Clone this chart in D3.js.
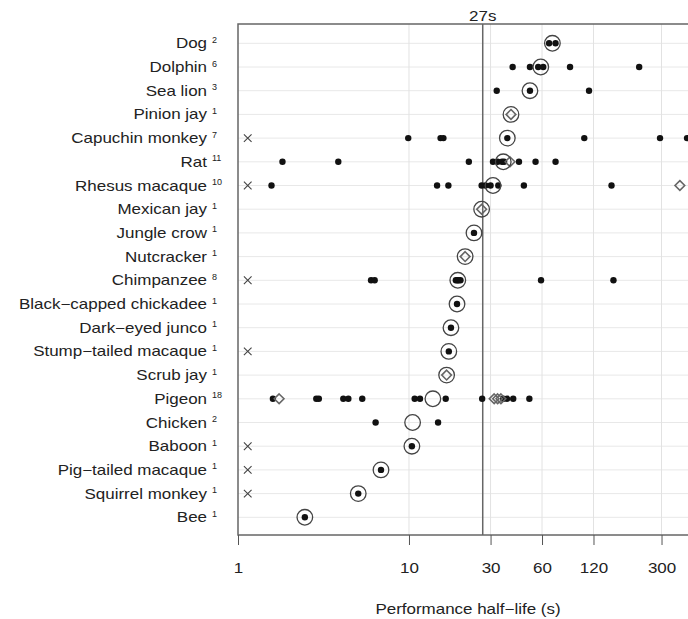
<!DOCTYPE html>
<html>
<head>
<meta charset="utf-8">
<script src="https://cdn.jsdelivr.net/npm/d3@7"></script>
<style>
  body { margin: 0; background: #fff; }
  text { font-family: "Liberation Sans", Arial, sans-serif; fill: #222; }
</style>
</head>
<body>
<div id="chart"></div>
<script>
// species, top to bottom
var species = ["Dog", "Dolphin", "Sea lion", "Pinion jay", "Capuchin monkey", "Rat",
    "Rhesus macaque", "Mexican jay", "Jungle crow", "Nutcracker", "Chimpanzee",
    "Black\u2212capped chickadee", "Dark\u2212eyed junco", "Stump\u2212tailed macaque", "Scrub jay",
    "Pigeon", "Chicken", "Baboon", "Pig\u2212tailed macaque", "Squirrel monkey", "Bee"];
var counts = [2, 6, 3, 1, 7, 11, 10, 1, 1, 1, 8, 1, 1, 1, 1, 18, 2, 1, 1, 1, 1];

// big open circle per species (median half-life, s)
var medians = [69, 59, 51, 39.5, 37.6, 35.6, 31, 26.6, 24, 21.3, 19.3, 19.1, 17.6, 17.1, 16.6,
    13.8, 10.5, 10.4, 6.86, 5.05, 2.46];

// individual estimates (small black dots)
var dotValues = [
    [66, 72],
    [40.4, 51, 57, 61, 87.5, 222],
    [32.6, 51, 113],
    [],
    [9.9, 15.3, 15.9, 37.6, 106, 294, 423],
    [1.82, 3.86, 22.4, 31, 33, 35, 36, 44, 55, 72],
    [1.57, 14.6, 17, 26.6, 28, 30, 33.3, 47, 153],
    [],
    [24],
    [],
    [6.0, 6.3, 18.8, 19.2, 19.5, 20, 59.2, 157],
    [19.1],
    [17.6],
    [17.1],
    [],
    [1.6, 2.87, 2.97, 4.13, 4.42, 5.33, 10.8, 11.6, 16.4, 26.8, 35.6, 37.5, 40.7, 50.6],
    [6.38, 14.8],
    [10.4],
    [6.86],
    [5.05],
    [2.46]
];

// other estimates (open diamonds)
var diamondValues = [
    [], [], [], [39.5], [], [39], [384], [26.6], [], [21.3], [], [], [], [], [16.6],
    [1.74, 31.5, 33, 34.5], [], [], [], [], []
];

// species with an estimate that could not be fitted (x at left edge)
var failed = ["Capuchin monkey", "Rhesus macaque", "Chimpanzee", "Stump\u2212tailed macaque",
    "Baboon", "Pig\u2212tailed macaque", "Squirrel monkey"];
var failedValue = 1.14;

var tickValues = [1, 10, 30, 60, 120, 300];
var refValue = 27;

var width = 688, height = 619;
var panel = { left: 238, right: 713, top: 24, bottom: 535 };
var stretch = "scale(1.17,1)"; // text in the original is a bit wide

var svg = d3.select("#chart").append("svg")
    .attr("width", width)
    .attr("height", height);

var x = d3.scaleLog()
    .domain([1, 600])
    .range([panel.left, panel.right]);

var y = d3.scalePoint()
    .domain(species)
    .range([43.3, 517.3]);

// grid
svg.append("g").selectAll("line")
    .data(species)
    .enter().append("line")
    .attr("x1", panel.left).attr("x2", panel.right)
    .attr("y1", function (d) { return y(d); })
    .attr("y2", function (d) { return y(d); })
    .attr("stroke", "#e8e8e8").attr("stroke-width", 1);

svg.append("g").selectAll("line")
    .data(tickValues.slice(1))
    .enter().append("line")
    .attr("x1", function (d) { return x(d); })
    .attr("x2", function (d) { return x(d); })
    .attr("y1", panel.top).attr("y2", panel.bottom)
    .attr("stroke", "#e2e2e2").attr("stroke-width", 1);

// 27s reference line
svg.append("line")
    .attr("x1", x(refValue)).attr("x2", x(refValue))
    .attr("y1", panel.top).attr("y2", panel.bottom)
    .attr("stroke", "#666").attr("stroke-width", 1.5);
svg.append("g")
    .attr("transform", "translate(" + x(refValue) + ",16)")
    .append("text")
    .attr("transform", stretch)
    .attr("dy", "0.35em")
    .attr("text-anchor", "middle")
    .style("font-size", "14.5px")
    .text(refValue + "s");

// flatten points
var dots = [], diamonds = [];
species.forEach(function (s, i) {
    dotValues[i].forEach(function (v) { dots.push({ s: s, v: v }); });
    diamondValues[i].forEach(function (v) { diamonds.push({ s: s, v: v }); });
});

svg.append("g").selectAll("circle")
    .data(dots)
    .enter().append("circle")
    .attr("cx", function (d) { return x(d.v); })
    .attr("cy", function (d) { return y(d.s); })
    .attr("r", 3.2)
    .attr("fill", "#111");

var diamond = d3.symbol().type(d3.symbolDiamond2).size(60);
svg.append("g").selectAll("path")
    .data(diamonds)
    .enter().append("path")
    .attr("d", diamond)
    .attr("transform", function (d) { return "translate(" + x(d.v) + "," + y(d.s) + ")"; })
    .attr("fill", "none")
    .attr("stroke", "#666")
    .attr("stroke-width", 1.6);

svg.append("g").selectAll("circle")
    .data(medians)
    .enter().append("circle")
    .attr("cx", function (d) { return x(d); })
    .attr("cy", function (d, i) { return y(species[i]); })
    .attr("r", 7.8)
    .attr("fill", "none")
    .attr("stroke", "#444")
    .attr("stroke-width", 1.3);

var cross = d3.symbol().type(d3.symbolX).size(40);
svg.append("g").selectAll("path")
    .data(failed)
    .enter().append("path")
    .attr("d", cross)
    .attr("transform", function (d) { return "translate(" + x(failedValue) + "," + y(d) + ")"; })
    .attr("fill", "none")
    .attr("stroke", "#444")
    .attr("stroke-width", 1.1);

// panel border
svg.append("rect")
    .attr("x", panel.left).attr("y", panel.top)
    .attr("width", panel.right - panel.left)
    .attr("height", panel.bottom - panel.top)
    .attr("fill", "none")
    .attr("stroke", "#666")
    .attr("stroke-width", 1.5);

// x axis
var xAxis = svg.append("g")
    .attr("transform", "translate(0," + panel.bottom + ")")
    .call(d3.axisBottom(x).tickValues(tickValues).tickFormat(d3.format("d"))
        .tickSizeInner(10).tickSizeOuter(0).tickPadding(18));
xAxis.select(".domain").remove();
xAxis.selectAll(".tick line").attr("stroke", "#555");
xAxis.selectAll(".tick text")
    .attr("transform", stretch)
    .style("font-size", "14.5px")
    .attr("fill", "#222")
    .style("font-family", "'Liberation Sans', Arial, sans-serif");

svg.append("g")
    .attr("transform", "translate(468,609)")
    .append("text")
    .attr("transform", stretch)
    .attr("dy", "0.35em")
    .attr("text-anchor", "middle")
    .style("font-size", "14.5px")
    .text("Performance half\u2212life (s)");

// species labels with study counts
var labels = svg.append("g").selectAll("g")
    .data(species)
    .enter().append("g")
    .attr("transform", function (d) { return "translate(0," + y(d) + ")"; });

labels.append("g")
    .attr("transform", "translate(207,0)")
    .append("text")
    .attr("transform", stretch)
    .attr("dy", "0.35em")
    .attr("text-anchor", "end")
    .style("font-size", "14.5px")
    .text(function (d) { return d; });

labels.append("text")
    .attr("x", 212)
    .attr("dy", "-0.05em")
    .style("font-size", "9px")
    .attr("fill", "#444")
    .text(function (d, i) { return counts[i]; });
</script>
</body>
</html>
